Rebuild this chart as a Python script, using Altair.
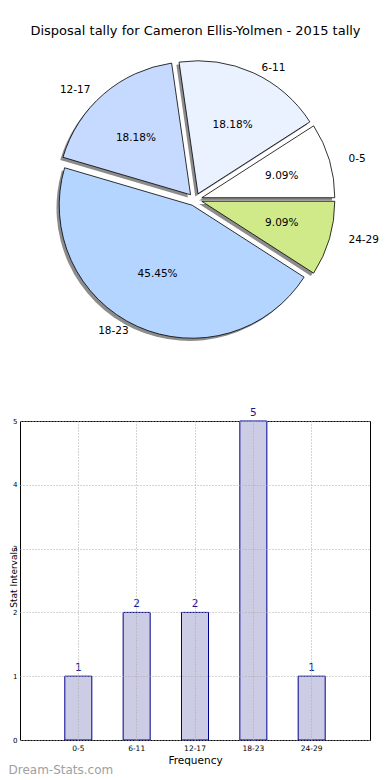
import math
import altair as alt
import pandas as pd

# ---- data ----
cats = ["0-5", "6-11", "12-17", "18-23", "24-29"]
counts = [1, 2, 2, 5, 1]
slice_colors = ["#FFFFFF", "#EAF1FF", "#C6D9FF", "#B4D5FF", "#D0EA8A"]
title_text = ["Disposal tally for Cameron Ellis-Yolmen - 2015 tally"]
watermark = ["Dream-Stats.com"]
y_ticks = [0, 1, 2, 3, 4, 5]

# ---- layout constants (page px) ----
PLOT_LEFT = 19.5          # page x of bar plot / pie panel origin
PAD_L = 0
R = 133                   # wedge radius
RX, RY = 139, 126         # radii used to place explode offsets and labels
CX = 194.6 - PLOT_LEFT
CY = 198.5 - 8
SH = 2.7

pie_df = pd.DataFrame({"cat": cats, "count": counts, "idx": list(range(len(cats)))})

pie_base = (
    alt.Chart(pie_df)
    .transform_joinaggregate(total="sum(count)")
    .transform_window(cum="sum(count)", sort=[alt.SortField("idx")], frame=[None, 0])
    .transform_calculate(mid="2*PI*(datum.cum - datum.count/2)/datum.total")
    .transform_calculate(
        ex=f"{CX} + {0.05 * RX}*cos(datum.mid)",
        ey=f"{CY} - {0.05 * RY}*sin(datum.mid)",
    )
    .transform_calculate(
        sx=f"datum.ex - {SH}",
        sy=f"datum.ey + {SH}",
        lx=f"datum.ex + {1.1 * RX}*cos(datum.mid)",
        ly=f"datum.ey - {1.1 * RY}*sin(datum.mid)",
        tx=f"datum.ex + {0.6 * RX}*cos(datum.mid)",
        ty=f"datum.ey - {0.6 * RY}*sin(datum.mid)",
        pct="format(100*datum.count/datum.total, '.2f') + '%'",
        side="cos(datum.mid) >= 0 ? 'r' : 'l'",
    )
)

theta = alt.Theta(
    "count:Q", stack=True,
    scale=alt.Scale(range=[math.pi / 2, math.pi / 2 + 2 * math.pi]),
)
order = alt.Order("idx:Q", sort="descending")

shadow = pie_base.mark_arc(radius=R, color="#8c8c8c").encode(
    theta=theta, order=order,
    x=alt.X("sx:Q", scale=None), y=alt.Y("sy:Q", scale=None),
)
wedges = pie_base.mark_arc(radius=R, stroke="black", strokeWidth=0.8).encode(
    theta=theta, order=order,
    color=alt.Color("cat:N", scale=alt.Scale(domain=cats, range=slice_colors), legend=None),
    x=alt.X("ex:Q", scale=None), y=alt.Y("ey:Q", scale=None),
)
pct_text = pie_base.mark_text(fontSize=10.5, color="black").encode(
    x=alt.X("tx:Q", scale=None), y=alt.Y("ty:Q", scale=None), text="pct:N",
)
lab_r = pie_base.transform_filter("datum.side == 'r'").mark_text(
    fontSize=10.5, align="left", baseline="middle", color="black"
).encode(x=alt.X("lx:Q", scale=None), y=alt.Y("ly:Q", scale=None), text="cat:N")
lab_l = pie_base.transform_filter("datum.side == 'l'").mark_text(
    fontSize=10.5, align="right", baseline="middle", color="black"
).encode(x=alt.X("lx:Q", scale=None), y=alt.Y("ly:Q", scale=None), text="cat:N")

title_mark = alt.Chart(pd.DataFrame({"t": title_text})).mark_text(
    fontSize=13, align="center", baseline="middle", color="black"
).encode(x=alt.value(195 - PLOT_LEFT), y=alt.value(30 - 8), text="t:N")

pie = alt.layer(shadow, wedges, pct_text, lab_r, lab_l, title_mark).properties(
    width=350, height=380, view=alt.ViewBackground(stroke="transparent")
)

# ---- bar chart ----
bar_df = pd.DataFrame({"cat": cats, "count": counts})
grid_kw = dict(grid=True, gridDash=[1, 2], gridColor="#aaaaaa", gridWidth=1, zindex=1)
xenc = alt.X(
    "cat:N", sort=cats,
    scale=alt.Scale(paddingInner=0.537, paddingOuter=0.768),
    axis=alt.Axis(
        title="Frequency", labelAngle=0, labelFontSize=7.5, titleFontSize=10.5,
        tickSize=0, domain=False, labelPadding=4, titlePadding=4,
        bandPosition=0.5, labelColor="black", titleColor="black",
        titleFontWeight="normal", **grid_kw,
    ),
)
yenc = alt.Y(
    "count:Q",
    scale=alt.Scale(domain=[0, 5], nice=False),
    axis=alt.Axis(
        title="Stat Intervals", values=y_ticks, format="d", labelFontSize=7,
        titleFontSize=9, titleX=-1.5, titleY=156, tickSize=0, domain=False,
        labelPadding=3, labelColor="black", titleColor="black",
        titleFontWeight="normal", **grid_kw,
    ),
)
bar_base = alt.Chart(bar_df)
bars = bar_base.mark_bar(fill="#CCCCE5", stroke="#000090", strokeWidth=1).encode(x=xenc, y=yenc)
vals = bar_base.mark_text(dy=-3, baseline="bottom", fontSize=10.5, color="#1a1a8c").encode(
    x=alt.X("cat:N", sort=cats), y="count:Q", text="count:Q"
)
wm = alt.Chart(pd.DataFrame({"w": watermark})).mark_text(
    align="left", baseline="middle", fontSize=12, color="#a0a0a0"
).encode(x=alt.value(8 - PLOT_LEFT), y=alt.value(770 - 421), text="w:N")

bar = alt.layer(bars, vals, wm).properties(width=350, height=319)

chart = (
    alt.vconcat(pie, bar, spacing=17)
    .properties(padding={"left": PAD_L, "top": 0, "right": 0, "bottom": 0})
    .configure(font="DejaVu Sans")
    .configure_view(stroke="black", strokeWidth=1)
)
chart.save("out.html", embed_options={"renderer": "svg", "actions": False})
